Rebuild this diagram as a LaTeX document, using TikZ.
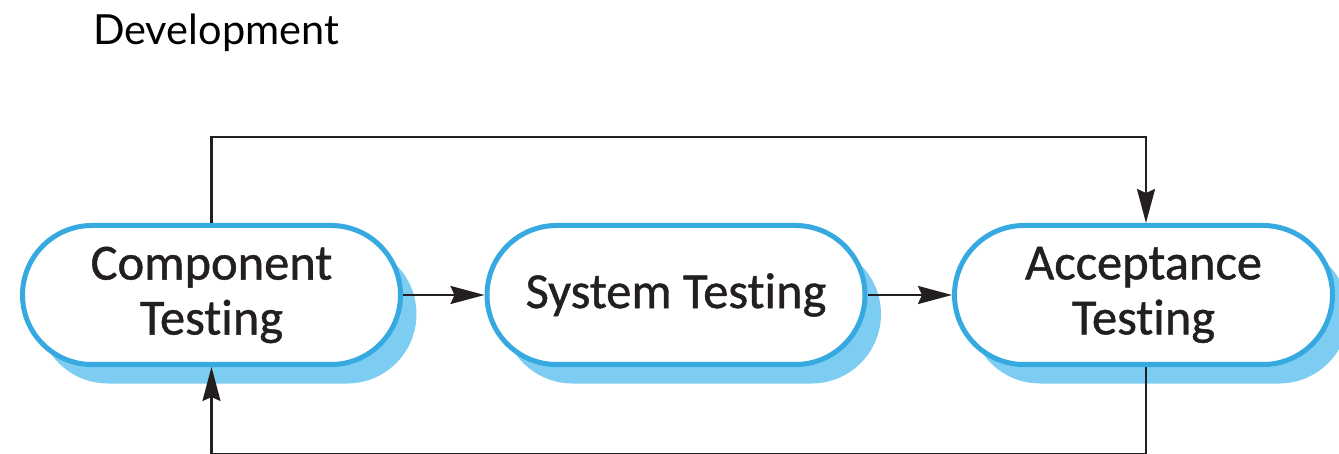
\documentclass[tikz,border=0pt]{standalone}
\usepackage{fontspec}
\setmainfont{Carlito}
\newfontfamily\boxfont{Carlito}[FakeBold=0.9, Ligatures=NoCommon]
\newfontfamily\titlefont{Lato}
\usetikzlibrary{arrows.meta,shadows}
\definecolor{boxblue}{HTML}{36A9E1}
\definecolor{shadowblue}{HTML}{7DCDF2}
\definecolor{inkdark}{HTML}{231F20}
\tikzset{
  testbox/.style={draw=boxblue, line width=5pt, fill=white,
    rounded corners=69.5pt, minimum width=378pt, minimum height=139pt,
    inner sep=0pt, align=center, font=\boxfont\fontsize{50.5}{55}\selectfont, text=inkdark,
    drop shadow={shadow xshift=16pt, shadow yshift=-19pt, fill=shadowblue, opacity=1}},
  flow/.style={draw=inkdark, line width=2.2pt, -{Stealth[length=34pt,width=18pt,inset=4pt]}}
}
\begin{document}
\begin{tikzpicture}[x=1pt,y=-1pt]
\useasboundingbox (0,0) rectangle (1339,454);
\node[anchor=base west, font=\titlefont\fontsize{41.5}{41.5}\selectfont, inner sep=0pt] (title) at (93,45) {Development};
\node[testbox] (comp) at (211.5,295) {Component\\Testing};
\node[testbox] (sys) at (676,295) {System Testing};
\node[testbox] (acc) at (1143.5,295) {Acceptance\\Testing};
\draw[flow] (comp.east) -- (sys.west);
\draw[flow] (sys.east) -- (acc.west);
\draw[flow] (comp.north) -- ++(0,-86) -| ([xshift=2.5pt]acc.north);
\draw[flow] ([xshift=2.5pt]acc.south) -- ++(0,87) -| (comp.south);
\end{tikzpicture}
\end{document}
